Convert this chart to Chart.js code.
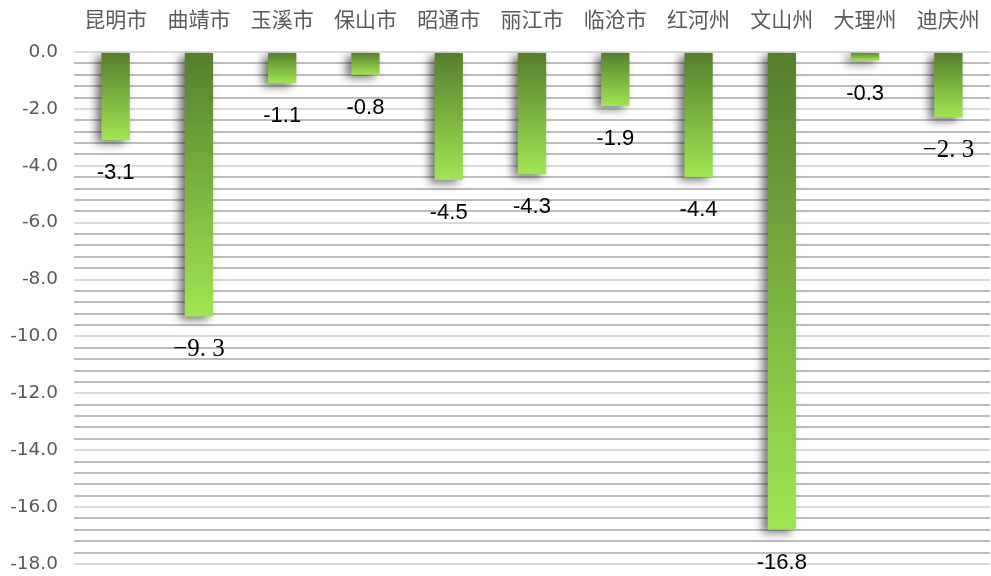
<!DOCTYPE html>
<html>
<head>
<meta charset="utf-8">
<script src="https://cdn.jsdelivr.net/npm/chart.js@4"></script>
<style>
  html, body { margin: 0; padding: 0; background: #fff; overflow: hidden; }
  .wrap { position: relative; width: 1000px; height: 591px; }
</style>
</head>
<body>
<div class="wrap"><canvas id="chart"></canvas></div>
<script>
const cities = ['昆明市', '曲靖市', '玉溪市', '保山市', '昭通市', '丽江市', '临沧市', '红河州', '文山州', '大理州', '迪庆州']
const changes = [-3.1, -9.3, -1.1, -0.8, -4.5, -4.3, -1.9, -4.4, -16.8, -0.3, -2.3]
// these two labels are typeset in a serif face with a wide full stop
const serifLabelCities = ['曲靖市', '迪庆州']

const isMajor = v => Math.round(v * 10) % 20 === 0

function barFill(ctx) {
  const chart = ctx.chart
  if (!chart.chartArea) return '#7aab3c'
  const y = chart.scales.y
  const top = y.getPixelForValue(0)
  const bottom = y.getPixelForValue(ctx.raw)
  const g = chart.ctx.createLinearGradient(0, top, 0, bottom)
  g.addColorStop(0, '#547e2c')
  g.addColorStop(1, '#a0e652')
  return g
}

const barExtras = {
  id: 'barExtras',
  beforeDatasetsDraw(chart) {
    const c = chart.ctx
    c.save()
    c.shadowColor = 'rgba(0,0,0,0.55)'
    c.shadowBlur = 10
    c.shadowOffsetX = -5
    c.shadowOffsetY = 3
  },
  afterDatasetsDraw(chart) {
    const c = chart.ctx
    c.restore()
    c.save()
    c.fillStyle = '#000'
    c.textAlign = 'center'
    c.textBaseline = 'middle'
    chart.getDatasetMeta(0).data.forEach((bar, i) => {
      const v = changes[i]
      let text = v.toFixed(1)
      c.font = '22px "Liberation Sans", Arial, sans-serif'
      if (serifLabelCities.includes(cities[i])) {
        const [a, b] = Math.abs(v).toFixed(1).split('.')
        text = '\u2212' + a + '. ' + b
        c.font = '25px "Liberation Serif", "DejaVu Serif", serif'
      }
      c.fillText(text, bar.x, bar.y + 33)
    })
    c.restore()
  }
}

new Chart(document.getElementById('chart'), {
  type: 'bar',
  data: {
    labels: cities,
    datasets: [{
      data: changes,
      backgroundColor: barFill,
      borderWidth: 0,
      categoryPercentage: 1,
      barPercentage: 0.34,
    }],
  },
  options: {
    responsive: true,
    maintainAspectRatio: false,
    animation: false,
    layout: { padding: { left: 0, right: 3, top: 0, bottom: 13 } },
    plugins: { legend: { display: false }, tooltip: { enabled: false } },
    scales: {
      x: {
        position: 'top',
        grid: { display: false, drawTicks: false },
        border: { display: false },
        ticks: {
          color: '#595959',
          padding: 20,
          maxRotation: 0,
          autoSkip: false,
          font: { family: '"Noto Sans CJK SC", sans-serif', size: 21 },
        },
        afterFit: s => { s.height = 52 },
      },
      y: {
        min: -18,
        max: 0,
        grid: {
          drawTicks: false,
          lineWidth: 2,
          color: ctx => isMajor(ctx.tick.value) ? '#dadada' : '#bdbdbd',
        },
        border: { display: false },
        ticks: {
          stepSize: 0.4,
          autoSkip: false,
          padding: 16,
          color: '#595959',
          font: { family: '"DejaVu Sans", sans-serif', size: 18.5 },
          callback: v => isMajor(v) ? (Math.round(v * 10) / 10).toFixed(1) : '',
        },
        afterFit: s => { s.width = 74 },
      },
    },
  },
  plugins: [barExtras],
})
</script>
</body>
</html>
